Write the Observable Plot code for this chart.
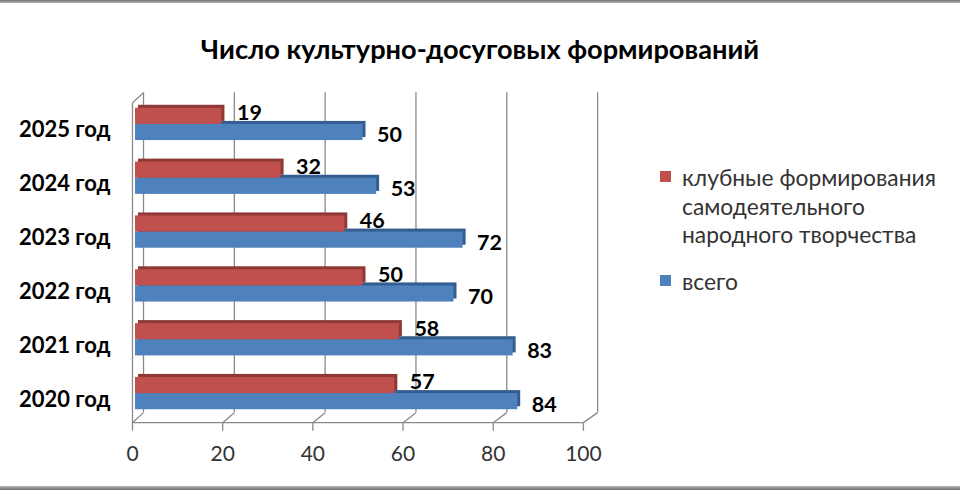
<!DOCTYPE html>
<html>
<head>
<meta charset="utf-8">
<script src="https://cdn.jsdelivr.net/npm/d3@7"></script>
<script src="https://cdn.jsdelivr.net/npm/@observablehq/plot@0.6"></script>
<style>
  html, body { margin: 0; padding: 0; background: #fff; }
  #chart { position: relative; width: 960px; height: 490px; overflow: hidden; font-family: Lato, "Open Sans", sans-serif; }
  #chart svg { position: absolute; left: 0; top: 0; }
  #frameTop { position: absolute; left: 0; top: 0; width: 960px; height: 3px; background: linear-gradient(#6f6f6f, #b5b5b5); }
  #frameBottom { position: absolute; left: 0; top: 486px; width: 960px; height: 4px; background: linear-gradient(#b5b5b5, #6f6f6f); }
  #title { position: absolute; left: 0; width: 960px; top: 31px; text-align: center; font-weight: bold; font-size: 27.2px; line-height: 36px; color: #000; }
  #legend { position: absolute; left: 660px; top: 163px; color: #333; font-size: 22.8px; line-height: 28.5px; }
  .item { position: relative; padding-left: 22px; }
  .item + .item { margin-top: 18px; }
  .swatch { position: absolute; left: 0; top: 8px; width: 11px; height: 11px; }
</style>
</head>
<body>
<div id="chart">
  <div id="frameTop"></div>
  <div id="title"></div>
  <div id="legend"></div>
  <div id="frameBottom"></div>
</div>
<script>
// ---- data ----
const years = ["2020 год", "2021 год", "2022 год", "2023 год", "2024 год", "2025 год"];
const clubs = [57, 58, 50, 46, 32, 19];
const total = [84, 83, 70, 72, 53, 50];
const xTicks = [0, 20, 40, 60, 80, 100];
const seriesNames = ["клубные формирования самодеятельного народного творчества", "всего"];
const seriesLines = [["клубные формирования", "самодеятельного", "народного творчества"], ["всего"]];
const titleText = "Число культурно-досуговых формирований";

// ---- styles ----
const colors = ["#C0504D", "#4F81BD"];
const darkColors = ["#8E3936", "#345E90"];
const gridColor = "#8a8a8a";

const rows = years.map((year, i) => ({year, i, clubs: clubs[i], total: total[i]}));

// geometry helpers (in scale units)
const BAR = 0.3;          // bar thickness per series (band units)
const FX = -0.66;         // front edge offset of the floor
const DX = 2.42, DY = 0.186; // 3D depth vector
const floorY = -0.04, topY = 6.09;
const frontX = v => FX + v * 0.991;
const backX = v => FX + DX + v * 0.998;

const chart = Plot.plot({
  width: 960,
  height: 490,
  margin: 0,
  x: {domain: [0, 100], range: [135, 590], axis: null},
  y: {type: "linear", domain: [0, 6], range: [420, 97], axis: null},
  style: {fontFamily: "Lato, 'Open Sans', sans-serif", background: "transparent"},
  marks: [
    // back wall gridlines
    Plot.ruleX(xTicks, {x: backX, y1: floorY + DY, y2: topY, stroke: gridColor, strokeWidth: 1.3}),
    // floor connectors
    Plot.link(xTicks, {x1: frontX, y1: floorY, x2: backX, y2: floorY + DY, stroke: gridColor, strokeWidth: 1.3}),
    // front floor edge
    Plot.link([0], {x1: frontX(0), x2: frontX(100), y1: floorY, y2: floorY, stroke: gridColor, strokeWidth: 1.3}),
    // left side wall
    Plot.link([0], {x1: frontX(0), x2: frontX(0), y1: floorY, y2: topY - DY, stroke: gridColor, strokeWidth: 1.3}),
    Plot.link([0], {x1: frontX(0), x2: backX(0), y1: topY - DY, y2: topY, stroke: gridColor, strokeWidth: 1.3}),
    // front ticks
    Plot.link(xTicks, {x1: frontX, x2: frontX, y1: floorY, y2: floorY - 0.15, stroke: gridColor, strokeWidth: 1.3}),
    // tick labels
    Plot.text(xTicks, {x: frontX, y: floorY, dy: 32, text: d => String(d), fontSize: 21, fill: "#333"}),
    // category labels
    Plot.text(rows, {x: 0, y: d => d.i + 0.5, text: "year", textAnchor: "end", dx: -25, dy: 6, fontSize: 22, fontWeight: "bold", fill: "#000"}),
    // blue bars (всего) with 3D depth
    Plot.rectX(rows, {x1: 0, x2: "total", y1: d => d.i + 0.5 - BAR, y2: d => d.i + 0.5, fill: darkColors[1], dx: 3, dy: -3}),
    Plot.rectX(rows, {x1: 0, x2: "total", y1: d => d.i + 0.5 - BAR, y2: d => d.i + 0.5, fill: colors[1]}),
    // red bars (клубные формирования) with 3D depth
    Plot.rectX(rows, {x1: 0, x2: "clubs", y1: d => d.i + 0.5, y2: d => d.i + 0.5 + BAR, fill: darkColors[0], dx: 3, dy: -3}),
    Plot.rectX(rows, {x1: 0, x2: "clubs", y1: d => d.i + 0.5, y2: d => d.i + 0.5 + BAR, fill: colors[0]}),
    // value labels
    Plot.text(rows, {x: "clubs", y: d => d.i + 0.5 + BAR / 2, text: d => String(d.clubs), textAnchor: "start", dx: 15, dy: -3, fontSize: 21.5, fontWeight: "bold", fill: "#000"}),
    Plot.text(rows, {x: "total", y: d => d.i + 0.5 - BAR / 2, text: d => String(d.total), textAnchor: "start", dx: 14, dy: 3, fontSize: 21.5, fontWeight: "bold", fill: "#000"})
  ]
});

const root = document.getElementById("chart");
root.insertBefore(chart, root.firstChild);
document.getElementById("title").textContent = titleText;

const legend = document.getElementById("legend");
seriesNames.forEach((name, k) => {
  const item = document.createElement("div");
  item.className = "item";
  item.title = name;
  const sw = document.createElement("div");
  sw.className = "swatch";
  sw.style.background = colors[k];
  item.appendChild(sw);
  seriesLines[k].forEach(line => {
    const l = document.createElement("div");
    l.textContent = line;
    item.appendChild(l);
  });
  legend.appendChild(item);
});
</script>
</body>
</html>
